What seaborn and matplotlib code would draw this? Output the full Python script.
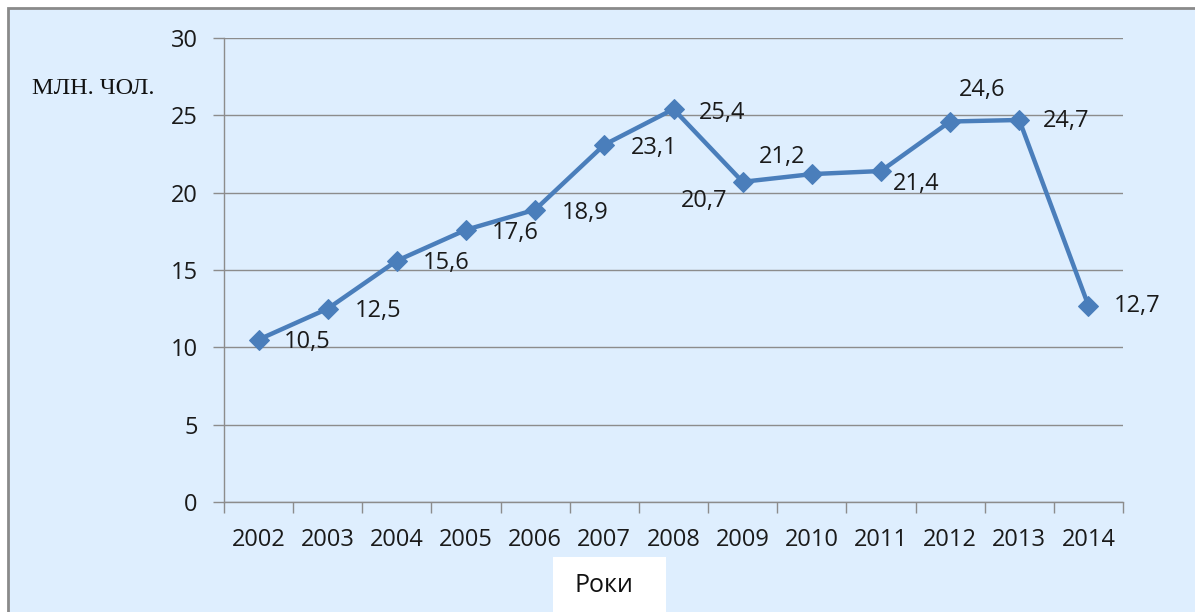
import numpy as np
import matplotlib
matplotlib.use('Agg')
import matplotlib.pyplot as plt
from matplotlib.patches import Rectangle
import seaborn as sns

# Data
years = ['2002', '2003', '2004', '2005', '2006', '2007', '2008',
         '2009', '2010', '2011', '2012', '2013', '2014']
values = [10.5, 12.5, 15.6, 17.6, 18.9, 23.1, 25.4,
          20.7, 21.2, 21.4, 24.6, 24.7, 12.7]
value_labels = ['10,5', '12,5', '15,6', '17,6', '18,9', '23,1', '25,4',
                '20,7', '21,2', '21,4', '24,6', '24,7', '12,7']
y_ticks = [0, 5, 10, 15, 20, 25, 30]

# label placement relative to each point (pixels)
label_offsets = [(49, -2), (50, -2), (49, -2), (49, -3), (50, -3), (50, -3), (49, -4),
                 (-38, -19), (-30, 17), (35, -13), (32, 32), (47, -1), (49, 0)]

sns.set_theme(style='white')
plt.rcParams['font.family'] = ['Open Sans', 'DejaVu Sans']

bg = '#DEEEFE'
grid_c = '#8C8C8C'
line_c = '#4A7EBB'

fig = plt.figure(figsize=(11.95, 6.12), dpi=100, facecolor='white')
fig.patches.append(Rectangle((8 / 1195, -0.05), 1.2, 1.05 - 8 / 612,
                             transform=fig.transFigure, facecolor=bg,
                             edgecolor='#8A8A8A', linewidth=2, zorder=-2))

ax = fig.add_axes([224 / 1195, 1 - 502 / 612, (1123 - 224) / 1195, (502 - 38) / 612])
ax.set_facecolor('none')
ax.set_zorder(1)

x = np.arange(len(years))
sns.lineplot(x=x, y=values, ax=ax, color=line_c, linewidth=3.2,
             marker='D', markersize=10, markeredgecolor=line_c, zorder=3)

for xi, v, lab, (dx, dy) in zip(x, values, value_labels, label_offsets):
    ax.annotate(lab, (xi, v), xytext=(dx, dy), textcoords='offset pixels',
                ha='center', va='center', fontsize=17, color='#1a1a1a')

ax.set_xlim(-0.5, len(years) - 0.5)
ax.set_ylim(0, 30)
ax.set_yticks(y_ticks)
ax.set_yticklabels([str(t) for t in y_ticks])
ax.set_xticks(x)
ax.set_xticklabels(years)
ax.set_xticks(np.arange(len(years) + 1) - 0.5, minor=True)

ax.grid(axis='y', color=grid_c, linewidth=1)
ax.set_axisbelow(True)
for s in ['top', 'right']:
    ax.spines[s].set_visible(False)
for s in ['left', 'bottom']:
    ax.spines[s].set_color(grid_c)
    ax.spines[s].set_linewidth(1)

ax.tick_params(axis='x', which='major', length=0, pad=19, labelsize=17, labelcolor='#1a1a1a')
ax.tick_params(axis='x', which='minor', length=8, width=1, color=grid_c, direction='out', bottom=True)
ax.tick_params(axis='y', length=8, width=1, color=grid_c, direction='out', left=True,
               pad=11, labelsize=17, labelcolor='#1a1a1a')

fig.text(93 / 1195, 1 - 88 / 612, 'МЛН. ЧОЛ.', family='Liberation Serif',
         fontsize=17.5, ha='center', va='center', color='#111111')

fig.patches.append(Rectangle((553 / 1195, -0.05), (666 - 553) / 1195, 0.05 + 1 - 557 / 612,
                             transform=fig.transFigure, facecolor='white',
                             edgecolor='none', zorder=-1))
fig.text(604 / 1195, 1 - 586 / 612, 'Роки', fontsize=18, ha='center', va='center',
         color='#111111')

fig.savefig('out.png', dpi=100, facecolor='white')
